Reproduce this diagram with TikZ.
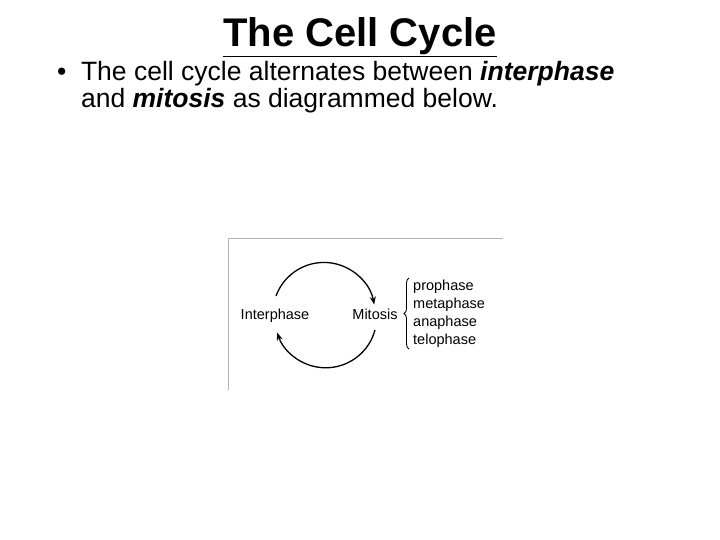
\documentclass[tikz,border=0pt]{standalone}
\usepackage{fontspec}
\setmainfont{Liberation Sans}
\usetikzlibrary{arrows.meta,decorations.pathreplacing}
\begin{document}
\begin{tikzpicture}[x=1pt,y=-1pt,
  lbl/.style={inner sep=0pt,anchor=base,font=\fontsize{14.5}{16}\selectfont},
  arc/.style={line width=1.3pt,-{Stealth[length=8pt,width=6pt]}}]
\useasboundingbox (0,0) rectangle (720,540);
\node[inner sep=0pt,anchor=base,font=\fontsize{40}{44}\selectfont\bfseries] (title) at (360,47) {\underline{The Cell Cycle}};
\node[inner sep=0pt,anchor=base west,align=left,font=\fontsize{26.5}{27.5}\selectfont] (txt) at (57,108)
 {\textbullet\hspace{0.55em}The cell cycle alternates between \textbf{\textit{interphase}}\\
 \hphantom{\textbullet\hspace{0.55em}}and \textbf{\textit{mitosis}} as diagrammed below.};
\draw[gray!60,line width=0.8pt] (228,390) -- (228,238) -- (503,238);
\node[lbl] (inter) at (275,319) {Interphase};
\node[lbl] (mit) at (375,319) {Mitosis};
\draw[arc] (276,296) arc[start angle=-160,end angle=-10,radius=51];
\draw[arc] (375,330) arc[start angle=15,end angle=162,radius=51];
\draw[line width=0.9pt,decorate,decoration={brace,amplitude=5pt,mirror}] (409,278) -- (409,349);
\node[inner sep=0pt,anchor=west,align=left,font=\fontsize{14.5}{18}\selectfont] (ph) at (413,313.5) {prophase\\metaphase\\anaphase\\telophase};
\end{tikzpicture}
\end{document}
